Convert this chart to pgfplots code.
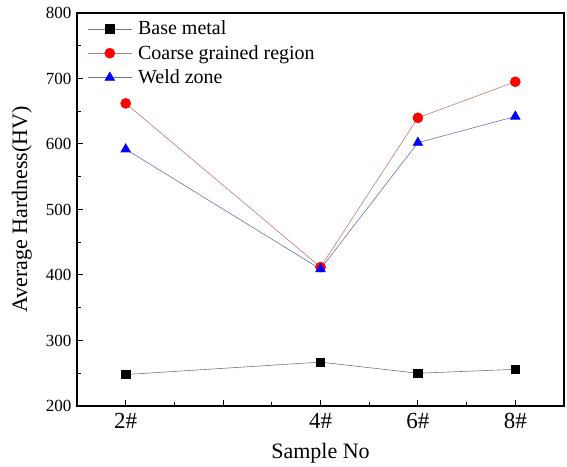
\documentclass[border=0pt]{standalone}
\usepackage{fontspec}
\setmainfont{Liberation Serif}
\usepackage{pgfplots}
\pgfplotsset{compat=1.18}
\definecolor{redline}{RGB}{196,120,120}
\definecolor{blueline}{RGB}{110,110,180}
\definecolor{grayline}{RGB}{120,120,120}
\begin{document}
\begin{tikzpicture}
\begin{axis}[
  scale only axis, width=487pt, height=393pt,
  xmin=-1, xmax=9, ymin=200, ymax=800,
  xtick={0,2,4,6,8}, xticklabels={2\#,,4\#,6\#,8\#},
  minor x tick num=1,
  ytick={200,300,400,500,600,700,800}, minor y tick num=1,
  tick align=inside, xtick pos=lower, ytick pos=left,
  major tick length=6pt, minor tick length=4pt,
  axis line style={line width=1.4pt}, tick style={line width=1pt, black},
  /pgf/number format/assume math mode=true,
  x tick label style={font=\fontsize{23}{25}\selectfont, yshift=-4pt},
  y tick label style={font=\fontsize{17}{19}\selectfont, xshift=-2pt},
  xlabel={Sample No}, ylabel={Average Hardness(HV)},
  label style={font=\fontsize{22}{24}\selectfont},
  xlabel style={at={(axis description cs:0.5,0)}, anchor=center, yshift=-47pt},
  ylabel style={at={(axis description cs:-0.113,0.5)}, anchor=center},
  legend style={at={(0.015,0.99)}, anchor=north west, draw=none, fill=none,
    font=\fontsize{20}{22}\selectfont, row sep=5pt,
    legend cell align=left,
    nodes={inner xsep=6pt}},
  legend image code/.code={\draw[mark repeat=2,mark phase=2,#1]
    plot coordinates {(0pt,0pt) (22pt,0pt) (44pt,0pt)};},
]
\addplot[grayline, line width=0.6pt, mark=square*, mark size=4.2pt, mark options={black, fill=black}]
  coordinates {(0,248) (4,267) (6,250) (8,256)};
\addplot[redline, line width=0.6pt, mark=*, mark size=5pt, mark options={red, fill=red}]
  coordinates {(0,662) (4,412) (6,640) (8,695)};
\addplot[blueline, line width=0.6pt, mark=triangle*, mark size=5.5pt, mark options={blue, fill=blue}]
  coordinates {(0,592) (4,409) (6,602) (8,642)};
\legend{Base metal, Coarse grained region, Weld zone}
\coordinate (ll) at (rel axis cs:0,0);
\coordinate (ur) at (rel axis cs:1,1);
\end{axis}
\path ([shift={(-77pt,-61pt)}]ll) rectangle ([shift={(3pt,13pt)}]ur);
\end{tikzpicture}
\end{document}
